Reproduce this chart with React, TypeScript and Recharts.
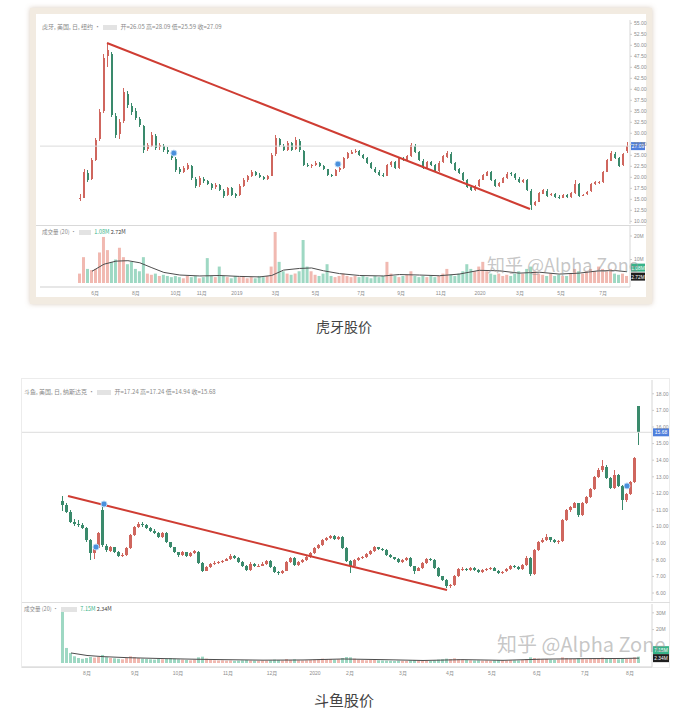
import React from 'react';
import { ComposedChart, Bar, Line, XAxis, YAxis, ReferenceLine, ReferenceDot, Cell } from 'recharts';

// ---------------- 虎牙 (Huya) ----------------
const huyaOHLC: number[][] = [
  [15.0,16.2,14.6,15.3],[15.4,21.8,15.2,21.2],[21.0,21.6,18.9,19.4],[19.6,24.4,19.3,23.9],[24.0,29.0,23.6,28.5],
  [28.6,35.6,28.2,34.8],[35.0,48.0,34.6,47.1],[47.5,50.5,45.0,48.9],[48.0,48.4,33.8,34.2],[34.0,34.6,29.0,29.6],
  [29.8,33.2,28.6,32.6],[32.8,40.2,32.4,39.4],[39.0,39.6,35.8,36.4],[36.2,37.0,34.2,34.8],[35.0,35.8,33.0,33.5],
  [33.2,33.8,31.4,31.9],[31.6,32.0,25.6,26.2],[26.4,27.8,25.9,27.3],[27.2,30.2,26.8,29.6],[29.4,29.8,26.3,26.7],
  [26.8,27.9,26.2,27.3],[27.1,27.6,25.8,26.2],[26.3,26.8,25.3,25.8],[25.6,26.0,24.0,24.4],[24.2,24.6,21.3,21.7],
  [21.8,22.3,20.8,21.2],[21.3,22.5,21.0,22.1],[22.0,23.3,21.7,22.8],[22.6,22.9,19.4,19.8],[19.7,20.1,17.6,18.0],
  [18.2,20.2,17.9,19.8],[19.7,20.0,18.8,19.2],[19.1,19.4,18.2,18.5],[18.4,18.8,17.2,17.6],[17.7,18.6,17.4,18.3],
  [18.2,18.5,16.8,17.1],[17.0,17.3,15.4,15.8],[15.9,17.9,15.7,17.6],[17.5,17.8,15.7,16.0],[16.1,16.4,15.3,15.8],
  [15.9,18.4,15.7,18.0],[18.1,19.8,17.9,19.4],[19.3,20.6,19.0,20.3],[20.4,21.6,20.1,21.2],[21.1,21.4,20.2,20.5],
  [20.6,20.9,19.8,20.1],[20.0,20.3,19.3,19.6],[19.7,20.6,19.5,20.3],[20.4,25.6,20.2,25.1],[25.2,29.6,24.9,28.9],
  [28.7,29.0,27.0,27.3],[27.2,27.6,25.9,26.2],[26.3,28.3,26.0,27.8],[27.7,28.0,25.9,26.2],[26.4,29.2,26.1,28.5],
  [28.3,28.7,25.8,26.2],[26.0,26.3,22.5,22.8],[22.9,23.3,22.3,22.6],[22.5,23.1,22.2,22.8],[22.9,23.6,22.6,23.3],
  [23.2,23.4,22.3,22.6],[22.5,22.8,21.6,21.9],[21.8,22.0,20.2,20.5],[20.6,20.8,20.0,20.3],[20.4,22.0,20.2,21.7],
  [21.6,22.4,21.3,22.1],[22.2,24.7,22.0,24.4],[24.3,25.8,24.1,25.5],[25.4,26.1,25.2,25.8],[25.9,26.4,25.6,26.0],
  [25.9,26.2,24.8,25.1],[25.0,25.3,24.1,24.4],[24.3,24.6,23.0,23.3],[23.2,23.5,21.8,22.1],[22.0,22.3,20.9,21.2],
  [21.3,21.6,20.2,20.5],[20.6,20.9,20.0,20.3],[20.4,23.1,20.2,22.8],[22.7,23.8,22.4,23.5],[23.4,23.7,21.8,22.1],
  [22.2,24.7,22.0,24.4],[24.3,24.6,23.6,23.9],[24.0,25.1,23.8,24.8],[24.9,27.8,24.6,27.3],[27.2,27.5,25.5,25.8],
  [25.7,26.0,23.6,23.9],[23.8,24.1,21.8,22.1],[22.2,23.8,22.0,23.5],[23.4,23.7,22.5,22.8],[22.7,23.0,21.1,21.4],
  [21.5,23.6,21.3,23.3],[23.4,25.1,23.2,24.8],[24.7,25.9,24.5,25.5],[25.4,25.7,23.0,23.3],[23.2,23.5,21.4,21.7],
  [21.8,22.1,20.7,21.0],[20.9,21.2,19.1,19.4],[19.3,19.6,17.5,17.8],[17.9,18.2,16.8,17.1],[17.2,18.3,17.0,18.0],
  [18.1,19.7,17.9,19.4],[19.5,20.8,19.3,20.5],[20.4,21.5,20.2,21.2],[21.1,21.4,19.1,19.4],[19.3,19.6,17.7,18.0],
  [18.1,19.0,17.9,18.7],[18.8,20.1,18.6,19.8],[19.9,21.1,19.7,20.8],[20.9,21.2,20.4,20.8],[20.7,21.0,19.5,19.8],
  [19.7,20.0,18.6,18.9],[19.0,19.7,18.8,19.4],[19.3,19.6,16.8,17.1],[17.0,17.3,12.6,13.7],[13.8,14.7,13.5,14.4],
  [14.5,16.7,14.3,16.4],[16.3,17.4,16.1,17.1],[17.0,17.3,15.5,15.8],[15.9,16.5,15.7,16.2],[16.1,16.4,15.2,15.5],
  [15.6,15.9,15.0,15.3],[15.4,16.3,15.2,16.0],[15.9,16.2,15.3,15.5],[15.6,16.7,15.4,16.4],[16.5,19.4,16.3,18.5],
  [18.4,18.7,15.6,15.8],[15.9,16.3,15.7,16.0],[16.1,17.0,15.9,16.7],[16.8,18.8,16.6,18.5],[18.4,19.2,18.2,18.9],
  [18.8,19.1,18.5,18.9],[19.0,21.5,18.8,21.2],[21.3,24.2,21.1,23.9],[23.8,25.9,23.6,25.5],[25.4,25.7,24.1,24.4],
  [24.3,24.6,22.3,22.6],[22.7,25.5,22.5,25.2],[26.05,28.09,25.59,27.09],
];
const huyaVolume: number[] = [
  4,11,6,5.5,6,13,19.6,14,9,10,15,11,8,9,6,5,11,4,3.5,4,
  3,3.5,3,2.5,3,2.5,2,3,2.5,3,2,2.5,10.6,3,2.5,7,3,2.5,2,3,
  2.5,3,2,2.5,2,3,2.5,3,7,21.7,9,5,4,3.5,4,5,18.3,7,5,3.5,
  3,4,8,3,2.5,3,4,3,2.5,3,2.5,3,2.5,2,3,2.5,3,9,4,3,
  2.5,3,3.5,5,3,2.5,3,2.5,3,2.5,3,4,6,3.5,3,4,5,8,6,5,
  7,9,5,4,3.5,4,3,3.5,3,4,5,4,6,7,5,4,3.5,3,4,3,
  3.5,3,3,4,6,5,4,5,6,5,7,6,5,6,4,3.5,4,3,
];
const huyaVolMA: number[][] = [
  [3,5],[6,8],[9,9.3],[12,9.5],[15,8.6],[18,6.5],[21,4.5],[25,3.4],[30,3],[35,3.2],[40,2.8],[45,2.6],
  [48,3.2],[51,5.5],[55,6.2],[58,6.4],[61,5.2],[65,4],[70,3.2],[76,3],[80,3.6],[85,3.4],[90,3.1],
  [95,3.8],[100,5.4],[105,5.2],[110,4.2],[115,4.6],[120,3.8],[125,4.2],[130,5.2],[134,5.3],[137,4.8],
];
const huyaDateTicks = [3.76, 14, 24, 30.5, 39.3, 49, 59, 70.4, 80.4, 90.4, 100.2, 110.2, 120.5, 131];
const huyaDateLabels = ['6月','8月','10月','11月','2019','3月','5月','7月','9月','11月','2020','3月','5月','7月'];
const huyaPriceTicks = [10,12.5,15,17.5,20,22.5,25,27.5,30,32.5,35,37.5,40,42.5,45,47.5,50,52.5,55];
const huyaVolTicks = [10, 20];
const huyaTrend = [{ x: 6.76, y: 50.52 }, { x: 112.7, y: 12.8 }];
const huyaMarkers = [[23.5, 25.5], [64.6, 23.0]];

// ---------------- 斗鱼 (Douyu) ----------------
const douyuOHLC: number[][] = [
  [11.55,11.85,10.95,11.30],[11.30,11.40,10.80,10.88],[10.90,11.00,10.20,10.28],[10.25,10.45,10.05,10.16],[10.15,10.40,10.00,10.10],
  [10.10,10.20,9.85,9.92],[9.90,10.00,9.10,9.19],[9.20,9.25,8.00,8.41],[8.40,8.80,8.05,8.71],[8.70,9.70,8.65,9.61],
  [11.00,11.25,8.80,8.89],[8.85,8.95,8.50,8.59],[8.55,8.85,8.45,8.77],[8.75,8.80,8.40,8.47],[8.45,8.55,8.15,8.23],
  [8.25,8.40,8.15,8.29],[8.30,8.80,8.25,8.71],[8.70,9.55,8.65,9.49],[9.50,10.05,9.45,9.98],[9.95,10.25,9.90,10.16],
  [10.15,10.25,10.00,10.10],[10.10,10.15,9.85,9.92],[9.90,9.95,9.65,9.73],[9.75,9.85,9.55,9.61],[9.60,9.65,9.30,9.37],
  [9.35,9.70,9.30,9.61],[9.60,9.65,9.00,9.07],[9.05,9.10,8.70,8.77],[8.75,8.80,8.40,8.47],[8.45,8.50,8.20,8.29],
  [8.30,8.55,8.25,8.47],[8.45,8.50,8.15,8.23],[8.25,8.50,8.20,8.41],[8.40,8.60,8.35,8.53],[8.50,8.55,7.75,7.81],
  [7.80,7.85,7.25,7.33],[7.35,7.65,7.30,7.57],[7.55,7.80,7.50,7.75],[7.75,7.90,7.70,7.81],[7.80,7.95,7.75,7.87],
  [7.85,8.00,7.80,7.93],[7.95,8.10,7.90,8.05],[8.05,8.35,8.00,8.23],[8.25,8.30,8.05,8.11],[8.10,8.15,7.80,7.87],
  [7.85,7.90,7.55,7.63],[7.65,7.70,7.30,7.39],[7.40,7.85,7.35,7.75],[7.75,7.80,7.55,7.63],[7.60,7.75,7.55,7.63],
  [7.65,7.85,7.60,7.75],[7.75,8.00,7.70,7.93],[7.95,8.00,7.50,7.57],[7.55,7.60,7.20,7.27],[7.25,7.30,7.10,7.20],
  [7.20,7.40,7.15,7.33],[7.35,7.95,7.30,7.87],[7.85,8.20,7.80,8.11],[8.10,8.15,7.65,7.69],[7.70,7.95,7.65,7.87],
  [7.85,8.05,7.80,7.99],[8.00,8.25,7.95,8.17],[8.15,8.50,8.10,8.41],[8.40,8.80,8.35,8.71],[8.70,8.95,8.65,8.89],
  [8.90,9.25,8.85,9.19],[9.20,9.40,9.15,9.31],[9.30,9.50,9.25,9.43],[9.45,9.50,9.20,9.25],[9.25,9.45,9.20,9.37],
  [9.40,9.45,8.65,8.71],[8.70,8.75,7.85,7.93],[7.95,8.00,7.20,7.63],[7.65,8.05,7.60,7.99],[8.00,8.20,7.95,8.11],
  [8.10,8.25,8.05,8.17],[8.15,8.40,8.10,8.35],[8.35,8.60,8.30,8.53],[8.55,8.85,8.50,8.77],[8.75,8.80,8.60,8.65],
  [8.65,8.70,8.55,8.59],[8.60,8.65,8.25,8.29],[8.30,8.35,8.10,8.17],[8.15,8.20,8.00,8.05],[8.05,8.10,7.80,7.87],
  [7.85,8.05,7.80,7.99],[8.00,8.15,7.95,8.11],[8.10,8.15,7.55,7.63],[7.60,7.65,7.15,7.33],[7.35,7.55,7.30,7.51],
  [7.50,7.85,7.45,7.81],[7.80,8.10,7.75,8.05],[8.05,8.10,7.90,7.99],[8.00,8.05,7.45,7.51],[7.50,7.55,6.95,7.02],
  [7.00,7.05,6.70,6.78],[6.80,6.85,6.30,6.42],[6.40,6.55,6.30,6.48],[6.50,7.10,6.45,7.02],[7.00,7.50,6.95,7.45],
  [7.45,7.55,7.35,7.45],[7.45,7.50,7.30,7.39],[7.40,7.55,7.35,7.51],[7.50,7.55,7.35,7.39],[7.40,7.45,7.20,7.27],
  [7.25,7.45,7.20,7.39],[7.40,7.50,7.35,7.45],[7.45,7.55,7.40,7.51],[7.50,7.55,7.30,7.33],[7.35,7.40,7.15,7.20],
  [7.20,7.35,7.15,7.27],[7.30,7.50,7.25,7.45],[7.45,7.70,7.40,7.63],[7.65,7.70,7.50,7.57],[7.55,7.60,7.40,7.45],
  [7.45,7.75,7.40,7.69],[7.70,8.25,7.65,8.11],[8.10,8.15,7.05,7.14],[7.15,8.65,7.10,8.59],[8.60,9.15,8.55,9.07],
  [9.05,9.30,9.00,9.19],[9.20,9.55,9.15,9.37],[9.35,9.40,9.10,9.19],[9.20,9.25,9.00,9.07],[9.05,9.20,8.95,9.13],
  [9.15,10.45,9.10,10.39],[10.40,11.05,10.35,10.99],[11.00,11.25,10.90,11.17],[11.15,11.50,11.10,11.42],[11.40,11.45,10.60,10.70],
  [10.70,11.50,10.65,11.42],[11.40,11.85,11.35,11.78],[11.80,12.35,11.75,12.27],[12.25,13.05,12.20,12.99],[13.00,13.50,12.90,13.41],
  [13.40,14.00,13.30,13.65],[13.60,13.70,12.85,12.93],[12.90,13.00,12.25,12.33],[12.30,13.40,12.25,13.11],[13.10,13.15,12.40,12.45],
  [12.45,12.50,11.00,11.60],[11.60,12.05,11.50,11.96],[11.95,12.75,11.90,12.69],[12.70,14.20,12.65,14.13],[17.24,17.24,14.94,15.68],
];
const douyuVolume: number[] = [
  33,9,6,4,3,2.5,3,3.6,3.2,3.6,4.8,3.5,3,2.8,2.5,2.2,3,4,3.5,3,
  2.6,2.4,2.2,2,2.4,2.2,2.5,3,2.6,2.2,2,1.8,1.6,2,3.4,3.8,2.6,2,1.6,1.5,
  1.6,1.4,1.5,1.3,1.4,1.6,1.8,1.5,1.4,1.3,1.5,1.4,1.6,2,1.8,1.5,2.4,1.8,2.2,1.6,
  1.5,1.6,1.8,2,2.2,2.6,2.3,2.4,2,2.2,3,3.6,3.4,2.6,2,1.8,1.6,1.8,2,1.6,
  1.5,1.4,1.3,1.2,1.4,1.3,1.2,1.6,1.8,1.4,1.3,1.4,1.2,1.6,2,2.2,2.6,2.4,2.8,2.4,
  2,1.8,1.6,1.5,1.6,1.4,1.5,1.3,1.6,1.8,1.6,1.5,1.7,1.6,1.5,1.8,2.4,3.4,3,2.6,
  2.2,2.4,2,1.8,2,3.4,3,2.6,2.4,2.8,2.4,2.2,2.6,3,2.8,3.2,2.8,2.4,2.6,2.2,
  3,2.4,2.8,3.4,3.8,
];
const douyuVolMA: number[][] = [
  [2,6],[6,4.5],[10,3.8],[16,3.2],[24,2.7],[32,2.3],[40,2],[50,1.7],[60,1.8],[70,2.4],[80,2],
  [90,1.5],[100,2],[110,1.6],[120,2.3],[130,2.6],[140,2.7],[144,2.9],
];
const douyuDateTicks = [6, 18, 28.75, 41.25, 52.25, 63, 71.75, 85, 96.75, 107.25, 118.5, 130.5, 141.75];
const douyuDateLabels = ['8月','9月','10月','11月','12月','2020','2月','3月','4月','5月','6月','7月','8月'];
const douyuPriceTicks = [6,7,8,9,10,11,12,13,14,15,16,17,18];
const douyuVolTicks = [20, 30];
const douyuTrend = [{ x: 1.25, y: 11.84 }, { x: 96, y: 6.18 }];
const douyuMarkers = [[8.25, 8.77], [10.25, 11.36], [141, 12.45]];

// ---------------- styles ----------------
const GREEN = '#3a8a6c';
const RED = '#cf665e';
const VOL_GREEN = '#9ed8c3';
const VOL_RED = '#f1b9b1';
const AXIS_TEXT = '#8d8d8d';
const TICK_FONT = '"Liberation Sans", "Noto Sans CJK SC", sans-serif';
const CJK = '"Noto Sans CJK SC", "Noto Sans", sans-serif';

function buildRows(ohlc: number[][], vol: number[], ma: number[][]) {
  const maMap = new Map<number, number>();
  ma.forEach(([i, v]) => maMap.set(i, v));
  return ohlc.map(([o, h, l, c], i) => ({
    i, o, h, l, c, range: [l, h], vol: vol[i] ?? 0, ma: maMap.has(i) ? maMap.get(i) : null,
  }));
}

const Candle = (props: any) => {
  const { x, y, width, height, payload } = props;
  if (x == null || y == null || !payload) return null;
  const { o, h, l, c } = payload;
  const top = Math.min(y, y + height);
  const span = Math.abs(height);
  const ppu = h > l ? span / (h - l) : 0;
  const yOf = (v: number) => top + (h - v) * ppu;
  const color = c >= o ? RED : GREEN;
  const bt = yOf(Math.max(o, c));
  const bb = yOf(Math.min(o, c));
  const cx = x + width / 2;
  return (
    <g shapeRendering="crispEdges">
      <rect x={cx - 0.5} y={top} width={1} height={Math.max(1, span)} fill={color} />
      <rect x={x} y={bt} width={width} height={Math.max(1, bb - bt)} fill={color} />
    </g>
  );
};

const priceTag = (text: string, bg: string, w: number) => (p: any) => {
  const vb = p.viewBox || {};
  const x = (vb.x ?? 0) + (vb.width ?? 0) + 1;
  const y = vb.y ?? 0;
  return (
    <g>
      <rect x={x} y={y - 4} width={w} height={8} fill={bg} />
      <text x={x + w / 2} y={y + 2} textAnchor="middle" fontSize={5} fill="#fff" fontFamily={TICK_FONT}>{text}</text>
    </g>
  );
};

const volTags = (greenText: string, blackText: string, w: number, gap: number) => (p: any) => {
  const vb = p.viewBox || {};
  const x = (vb.x ?? 0) + (vb.width ?? 0) + 1;
  const y = vb.y ?? 0;
  return (
    <g>
      <rect x={x} y={y - gap - 4} width={w} height={8} fill="#37b389" />
      <text x={x + w / 2} y={y - gap + 2} textAnchor="middle" fontSize={4.8} fill="#fff" fontFamily={TICK_FONT}>{greenText}</text>
      <rect x={x} y={y - 4} width={w} height={8} fill="#1e1e1e" />
      <text x={x + w / 2} y={y + 2} textAnchor="middle" fontSize={4.8} fill="#fff" fontFamily={TICK_FONT}>{blackText}</text>
    </g>
  );
};

type PanelProps = {
  rows: any[];
  left: number; width: number; axisW: number; extra: number;
  priceTop: number; priceH: number; priceDomain: [number, number]; priceTicks: number[];
  volTop: number; volH: number; volDomain: [number, number]; volTicks: number[];
  xDomain: [number, number]; dateTicks: number[]; dateLabels: string[];
  candleW: number; volW: number;
  trend: { x: number; y: number }[]; markers: number[][];
  lastText: string; lastValue: number;
  volTagValue: number; volGreen: string; volBlack: string; volGap: number;
};

function Panel(p: PanelProps) {
  const tickStyle = { fontSize: 5, fill: AXIS_TEXT, fontFamily: TICK_FONT };
  const margin = { top: 0, right: p.extra, bottom: 0, left: 0 };
  return (
    <>
      <div style={{ position: 'absolute', left: p.left, top: p.priceTop }}>
        <ComposedChart width={p.width + p.extra} height={p.priceH} data={p.rows} margin={margin}>
          <XAxis type="number" dataKey="i" domain={p.xDomain} hide allowDataOverflow />
          <YAxis
            orientation="right" type="number" domain={p.priceDomain} ticks={p.priceTicks} interval={0}
            width={p.axisW} allowDataOverflow tick={tickStyle} tickSize={2}
            axisLine={{ stroke: '#d6d6d6' }} tickLine={{ stroke: '#cccccc' }}
            tickFormatter={(v: number) => v.toFixed(2)}
          />
          <ReferenceLine y={p.lastValue} stroke="#dcdcdc" strokeWidth={1} label={priceTag(p.lastText, '#4f7fdc', p.axisW - 2)} />
          <Bar dataKey="range" barSize={p.candleW} shape={<Candle />} isAnimationActive={false} />
          <ReferenceLine segment={p.trend as any} stroke="#cf3d33" strokeWidth={2} />
          {p.markers.map((m, k) => (
            <ReferenceDot key={k} x={m[0]} y={m[1]} r={3} fill="#4a90dc" stroke="#b9d8f5" strokeWidth={1} />
          ))}
        </ComposedChart>
      </div>
      <div style={{ position: 'absolute', left: p.left, top: p.volTop }}>
        <ComposedChart width={p.width + p.extra} height={p.volH + 10} data={p.rows} margin={margin}>
          <XAxis
            type="number" dataKey="i" domain={p.xDomain} allowDataOverflow ticks={p.dateTicks} interval={0}
            height={10} tick={tickStyle} tickSize={2} tickLine={false} axisLine={{ stroke: '#cfcfcf' }}
            tickFormatter={(v: number) => p.dateLabels[p.dateTicks.indexOf(v)] ?? ''}
          />
          <YAxis
            orientation="right" type="number" domain={p.volDomain} ticks={p.volTicks} interval={0}
            width={p.axisW} allowDataOverflow tick={tickStyle} tickSize={2}
            axisLine={{ stroke: '#d6d6d6' }} tickLine={{ stroke: '#cccccc' }}
            tickFormatter={(v: number) => `${v}M`}
          />
          <Bar dataKey="vol" barSize={p.volW} isAnimationActive={false}>
            {p.rows.map((r: any) => (
              <Cell key={r.i} fill={r.c >= r.o ? VOL_RED : VOL_GREEN} />
            ))}
          </Bar>
          <Line dataKey="ma" type="linear" dot={false} connectNulls stroke="#4d4d4d" strokeWidth={1} isAnimationActive={false} />
          <ReferenceLine y={p.volTagValue} stroke="none" label={volTags(p.volGreen, p.volBlack, p.axisW - 2, p.volGap)} />
        </ComposedChart>
      </div>
    </>
  );
}

const legendStyle: React.CSSProperties = {
  position: 'absolute', fontSize: 6, color: '#8a8a8a', fontFamily: CJK, whiteSpace: 'nowrap', lineHeight: '8px',
};
const blurBox = (w: number) => (
  <span style={{ display: 'inline-block', width: w, height: 5, background: '#e3e3e3', margin: '0 3px', verticalAlign: 'middle' }} />
);

export default function App() {
  const huyaRows = buildRows(huyaOHLC, huyaVolume, huyaVolMA);
  const douyuRows = buildRows(douyuOHLC, douyuVolume, douyuVolMA);
  return (
    <div style={{ position: 'absolute', left: 0, top: 0, width: 688, height: 714, background: '#fff', overflow: 'hidden' }}>
      {/* ===== Chart 1 frame ===== */}
      <div style={{ position: 'absolute', left: 30, top: 8, width: 622, height: 296, background: '#f2ebe1', boxShadow: '0 0 5px rgba(170,140,110,0.45)' }} />
      <div style={{ position: 'absolute', left: 36, top: 14, width: 610, height: 283, background: '#fff' }} />
      <div style={{ position: 'absolute', left: 36, top: 225, width: 610, height: 1, background: '#d9d9d9' }} />
      <Panel
        rows={huyaRows} left={40} width={606} axisW={16} extra={4}
        priceTop={20} priceH={204} priceDomain={[9.39, 55.75]} priceTicks={huyaPriceTicks}
        volTop={226} volH={61} volDomain={[-1.7, 24.26]} volTicks={huyaVolTicks}
        xDomain={[-10.02, 137.75]} dateTicks={huyaDateTicks} dateLabels={huyaDateLabels}
        candleW={2} volW={3} trend={huyaTrend} markers={huyaMarkers}
        lastText="27.09" lastValue={27.09}
        volTagValue={2.72} volGreen="1.08M" volBlack="2.72M" volGap={9}
      />
      <div style={{ ...legendStyle, left: 42, top: 23 }}>
        虎牙, 美国, 日, 纽约 ·{blurBox(14)}开=26.05 高=28.09 低=25.59 收=27.09
      </div>
      <div style={{ ...legendStyle, left: 42, top: 228, fontSize: 5.5 }}>
        成交量 (20) ·{blurBox(12)}<span style={{ color: '#37b389' }}>1.08M</span> <span style={{ color: '#444' }}>2.72M</span>
      </div>
      <div style={{ position: 'absolute', left: 487, top: 253, fontSize: 18, fontFamily: CJK, color: 'rgba(150,150,150,0.55)', whiteSpace: 'nowrap', lineHeight: '22px' }}>
        知乎 @Alpha Zone
      </div>
      <div style={{ position: 'absolute', left: 0, width: 688, top: 316, textAlign: 'center', fontSize: 14, fontFamily: CJK, color: '#444', lineHeight: '20px' }}>
        虎牙股价
      </div>

      {/* ===== Chart 2 frame ===== */}
      <div style={{ position: 'absolute', left: 21, top: 378, width: 649, height: 290, border: '1px solid #ececec', boxSizing: 'border-box' }} />
      <div style={{ position: 'absolute', left: 22, top: 602, width: 648, height: 1, background: '#dedede' }} />
      <Panel
        rows={douyuRows} left={22} width={648} axisW={18} extra={0}
        priceTop={380} priceH={221} priceDomain={[5.52, 18.83]} priceTicks={douyuPriceTicks}
        volTop={604} volH={63} volDomain={[-2.4, 35.3]} volTicks={douyuVolTicks}
        xDomain={[-10.25, 147.25]} dateTicks={douyuDateTicks} dateLabels={douyuDateLabels}
        candleW={3} volW={3} trend={douyuTrend} markers={douyuMarkers}
        lastText="15.68" lastValue={15.68}
        volTagValue={2.9} volGreen="7.15M" volBlack="2.34M" volGap={8}
      />
      <div style={{ ...legendStyle, left: 24, top: 388 }}>
        斗鱼, 美国, 日, 纳斯达克 ·{blurBox(14)}开=17.24 高=17.24 低=14.94 收=15.68
      </div>
      <div style={{ ...legendStyle, left: 24, top: 605, fontSize: 5.5 }}>
        成交量 (20) ·{blurBox(16)}<span style={{ color: '#37b389' }}>7.15M</span> <span style={{ color: '#444' }}>2.34M</span>
      </div>
      <div style={{ position: 'absolute', left: 497, top: 632, fontSize: 20, fontFamily: CJK, color: 'rgba(150,150,150,0.55)', whiteSpace: 'nowrap', lineHeight: '24px' }}>
        知乎 @Alpha Zone
      </div>
      <div style={{ position: 'absolute', left: 0, width: 688, top: 689, textAlign: 'center', fontSize: 15, fontFamily: CJK, color: '#444', lineHeight: '22px' }}>
        斗鱼股价
      </div>
    </div>
  );
}
